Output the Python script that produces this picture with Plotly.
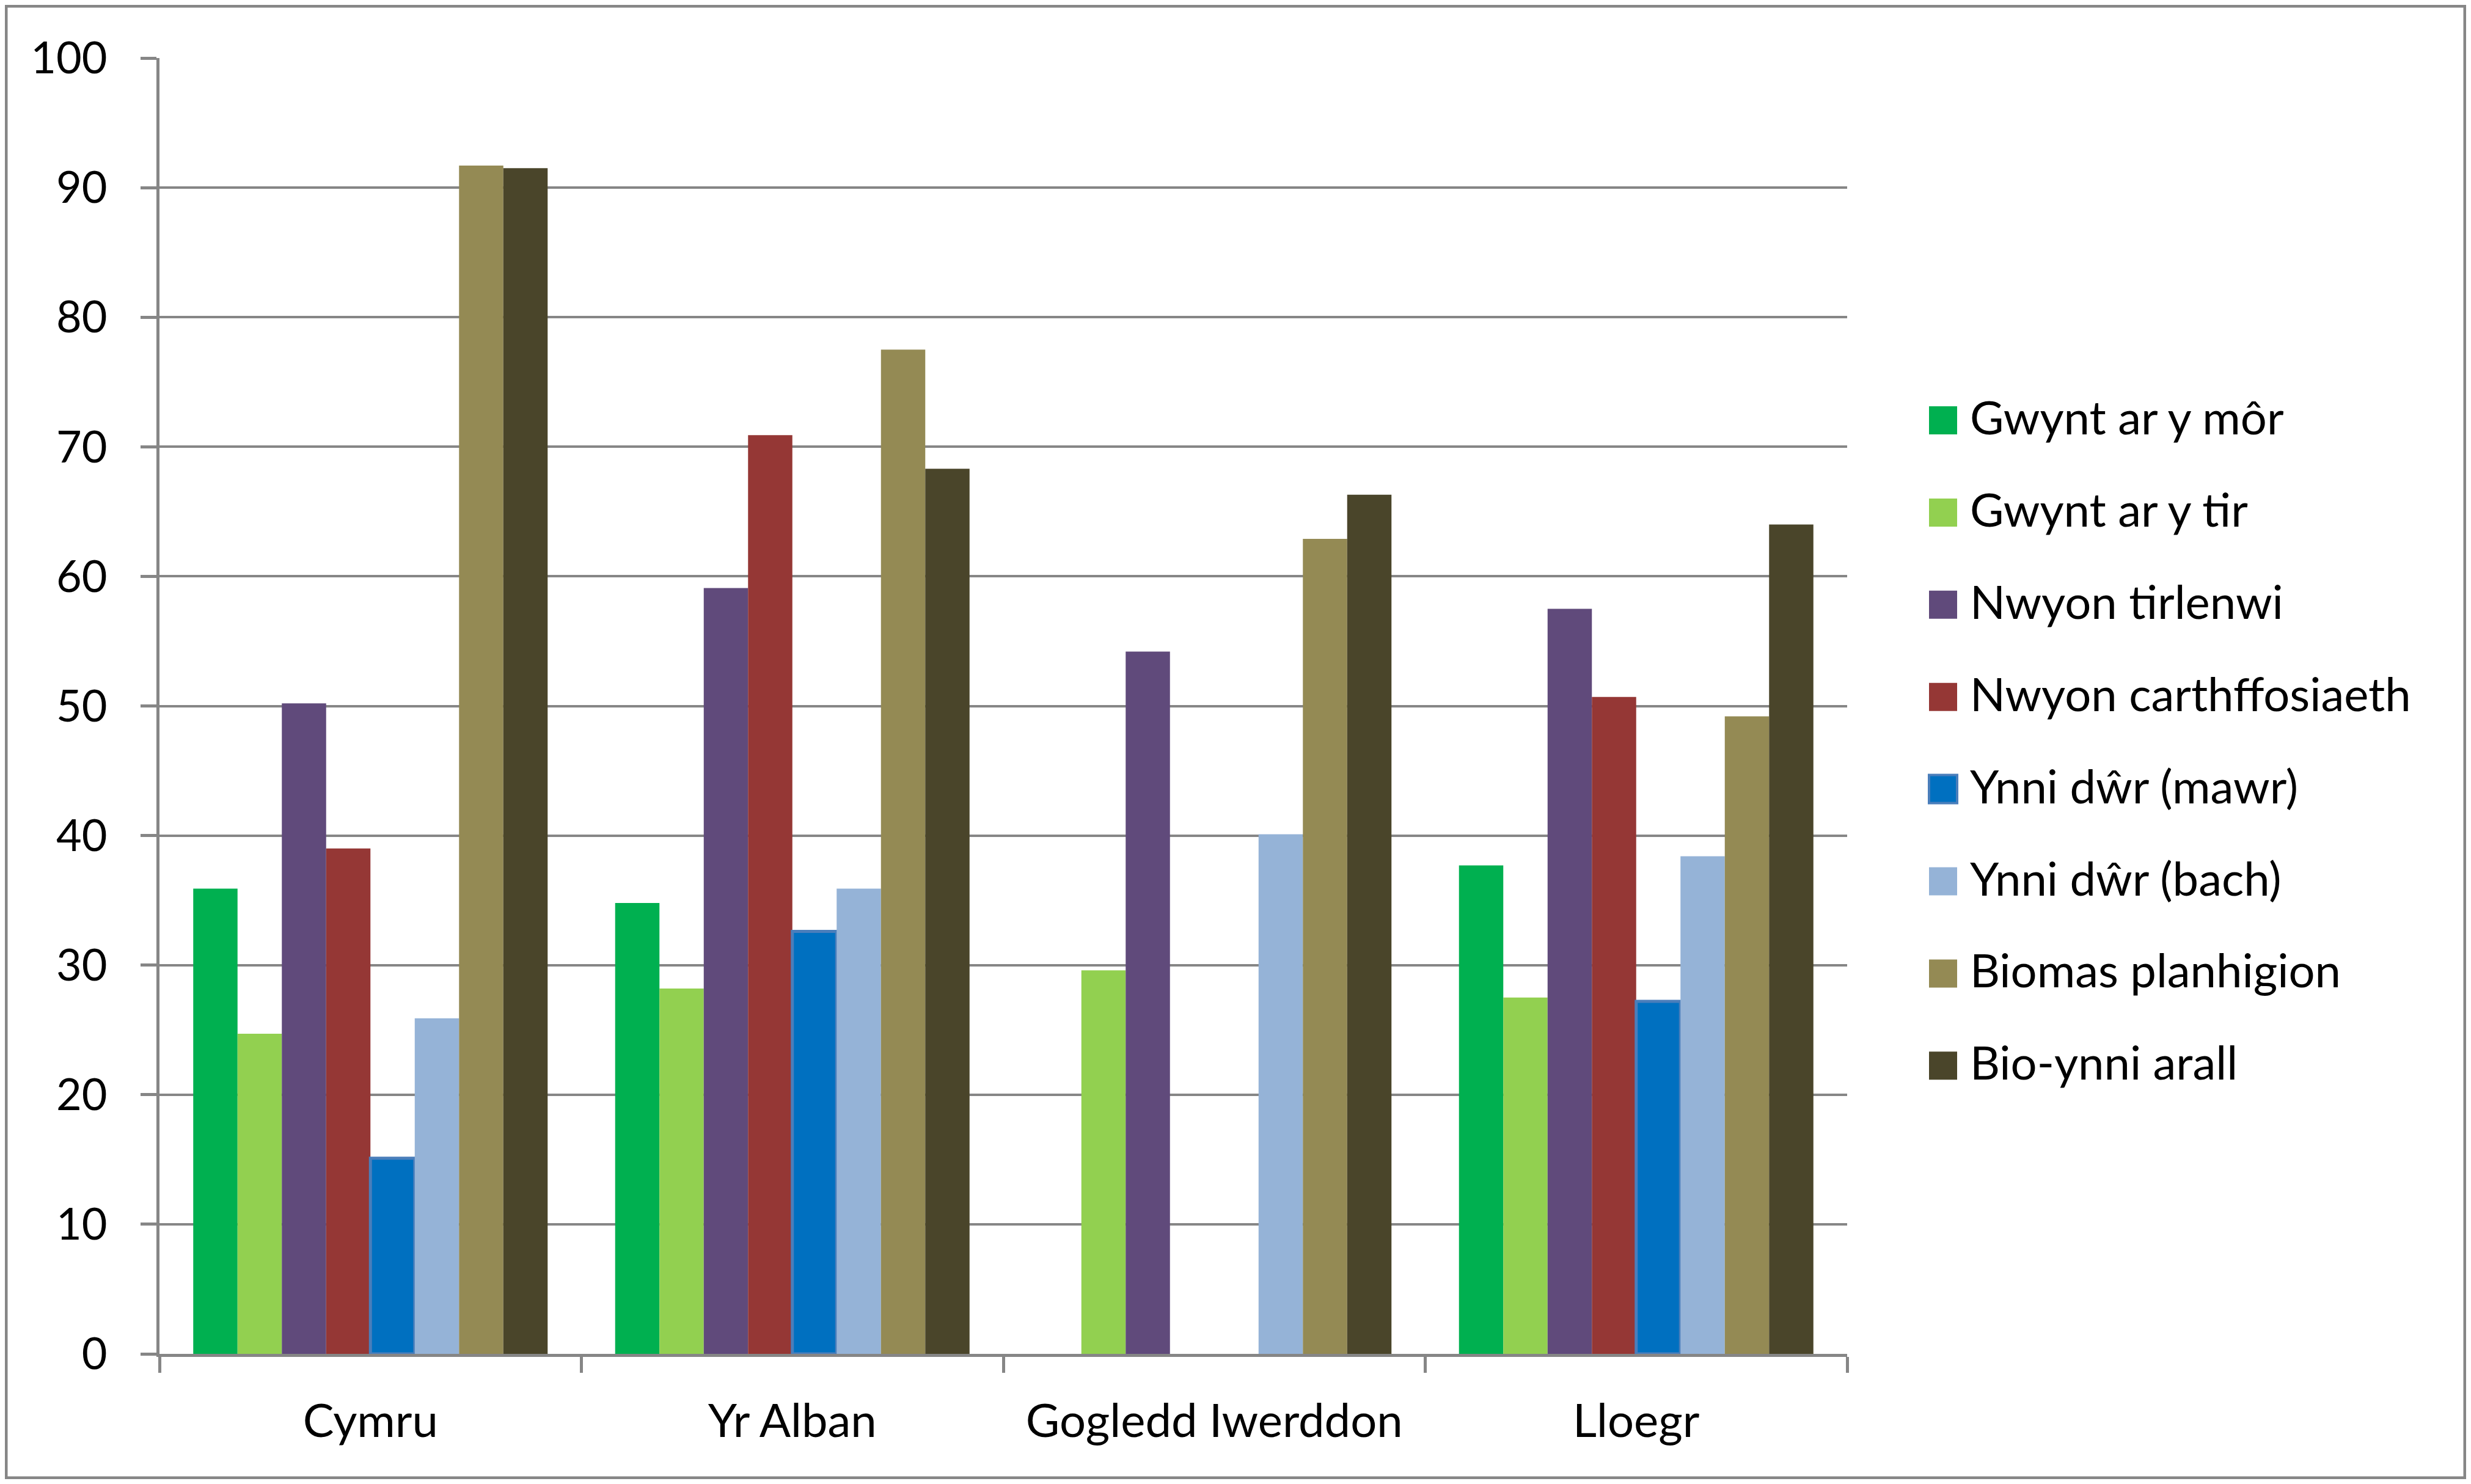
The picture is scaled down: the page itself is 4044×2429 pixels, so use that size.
import plotly.graph_objects as go

# categories and series
regions = ["Cymru", "Yr Alban", "Gogledd Iwerddon", "Lloegr"]
series = ["Gwynt ar y môr", "Gwynt ar y tir", "Nwyon tirlenwi", "Nwyon carthffosiaeth",
          "Ynni dŵr (mawr)", "Ynni dŵr (bach)", "Biomas planhigion", "Bio-ynni arall"]

gwynt_mor = [35.9, 34.8, None, 37.7]
gwynt_tir = [24.7, 28.2, 29.6, 27.5]
nwyon_tirlenwi = [50.2, 59.1, 54.2, 57.5]
nwyon_carthffosiaeth = [39.0, 70.9, None, 50.7]
ynni_dwr_mawr = [15.1, 32.6, None, 27.2]
ynni_dwr_bach = [25.9, 35.9, 40.1, 38.4]
biomas_planhigion = [91.7, 77.5, 62.9, 49.2]
bio_ynni_arall = [91.5, 68.3, 66.3, 64.0]

values = [gwynt_mor, gwynt_tir, nwyon_tirlenwi, nwyon_carthffosiaeth,
          ynni_dwr_mawr, ynni_dwr_bach, biomas_planhigion, bio_ynni_arall]
colors = ["#00B050", "#92D050", "#604A7B", "#953735",
          "#0070C0", "#95B3D7", "#948A54", "#4A452A"]
borders = [None, None, None, None, "#4A7EBB", None, None, None]

# page has an 8px body margin, so the figure is a bit smaller and shifted
W, H = 4028, 2413
L, R, T, B = 253, 4, 87, 205
X_END = 3015
plot_w = W - L - R
plot_h = H - T - B
main_frac = (X_END - L) / plot_w

GRID = "#868686"
FONT = "Lato, 'Open Sans', sans-serif"
FS = 72
FS_BIG = 76

fig = go.Figure()

for name, vals, col, bcol in zip(series, values, colors, borders):
    fig.add_trace(go.Bar(
        x=regions, y=vals, name=name,
        marker=dict(color=col,
                    line=dict(color=bcol or col, width=5 if bcol else 0)),
        showlegend=False,
        xaxis="x", yaxis="y"))

# legend drawn on a hidden side axis (units = pixels)
LEG_TOP, LEG_STEP = 680, 150.9
SWATCH_X, TEXT_X = 3172, 3216
leg_y = [LEG_TOP + i * LEG_STEP for i in range(len(series))]
fig.add_trace(go.Scatter(
    x=[SWATCH_X] * len(series), y=leg_y, mode="markers",
    marker=dict(symbol="square", size=46, color=colors,
                line=dict(color=[b or c for b, c in zip(borders, colors)],
                          width=[4 if b else 0 for b in borders])),
    showlegend=False, hoverinfo="skip", xaxis="x2", yaxis="y2"))
fig.add_trace(go.Scatter(
    x=[TEXT_X] * len(series), y=[v + 4 for v in leg_y], mode="text", text=series,
    textposition="middle right", textfont=dict(family=FONT, size=FS_BIG, color="black"),
    showlegend=False, hoverinfo="skip", xaxis="x2", yaxis="y2"))

fig.update_layout(
    width=W, height=H,
    margin=dict(l=L, r=R, t=T, b=B),
    paper_bgcolor="white", plot_bgcolor="white",
    barmode="group", bargap=0.16, bargroupgap=0,
    font=dict(family=FONT, size=FS, color="black"),
    xaxis=dict(domain=[0, main_frac], type="category",
               showline=True, linecolor=GRID, linewidth=5,
               ticks="outside", tickson="boundaries", ticklen=26, tickwidth=5,
               tickcolor=GRID, showgrid=False, ticklabelstandoff=40,
               tickfont=dict(family=FONT, size=FS_BIG, color="black")),
    yaxis=dict(range=[0, 100], dtick=10, showgrid=True, gridcolor=GRID, gridwidth=4,
               showline=True, linecolor=GRID, linewidth=5, zeroline=False,
               ticks="outside", ticklen=26, tickwidth=5, tickcolor=GRID,
               ticklabelstandoff=40,
               tickfont=dict(family=FONT, size=FS, color="black")),
    xaxis2=dict(domain=[main_frac, 1], range=[X_END, W - R], visible=False,
                anchor="y2"),
    yaxis2=dict(domain=[0, 1], range=[H - B, T], visible=False, anchor="x2"),
    shapes=[dict(type="rect", xref="paper", yref="paper",
                 x0=(2 - L) / plot_w, x1=(W - 2 - L) / plot_w,
                 y0=-(B - 2) / plot_h, y1=1 + (T - 2) / plot_h,
                 line=dict(color=GRID, width=5), fillcolor="rgba(0,0,0,0)")],
)

fig.write_html("out.html")
